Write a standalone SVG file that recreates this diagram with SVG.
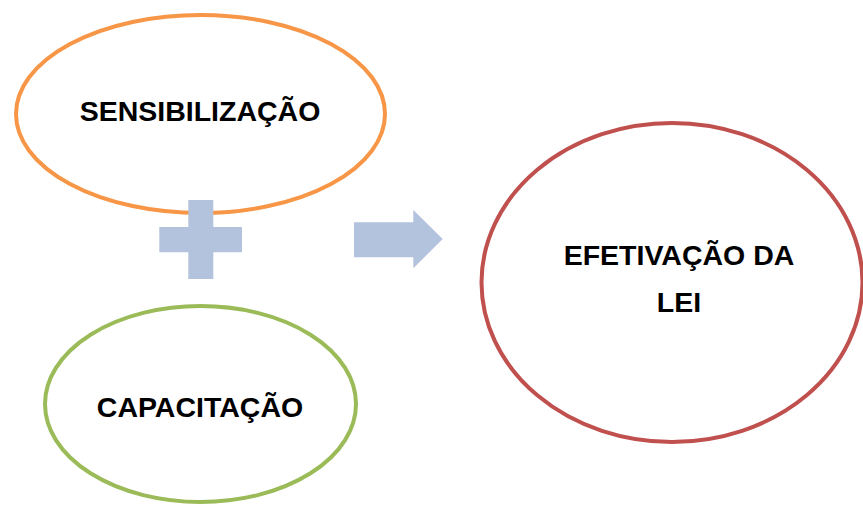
<svg xmlns="http://www.w3.org/2000/svg" width="863" height="505" viewBox="0 0 863 505">
<style>
.lbl{font-family:"Liberation Sans",Arial,sans-serif;font-weight:bold;font-size:28.5px;fill:#000;text-anchor:middle}
.node{fill:none;stroke-width:4}
.sym{fill:#B3C3DE}
</style>
<rect width="863" height="505" fill="#fff"/>
<g id="sensibilizacao">
<ellipse class="node" cx="200.5" cy="114" rx="184.5" ry="99" stroke="#F79646"/>
<text class="lbl" x="200" y="121">SENSIBILIZAÇÃO</text>
</g>
<g id="capacitacao">
<ellipse class="node" cx="200.5" cy="404" rx="155.5" ry="98" stroke="#9BBB59"/>
<text class="lbl" x="200" y="417">CAPACITAÇÃO</text>
</g>
<g id="efetivacao">
<ellipse class="node" cx="672" cy="282.5" rx="190.5" ry="159.5" stroke="#C0504D"/>
<text class="lbl" x="679" y="265">EFETIVAÇÃO DA</text>
<text class="lbl" x="679" y="312">LEI</text>
</g>
<g id="connectors">
<path class="sym" d="M188.3 200H213.3V227H242V252.3H213.3V279H188.3V252.3H159.3V227H188.3Z"/>
<path class="sym" d="M354 222.3H413.3V210L442.7 239L413.3 268.3V257.3H354Z"/>
</g>
</svg>
